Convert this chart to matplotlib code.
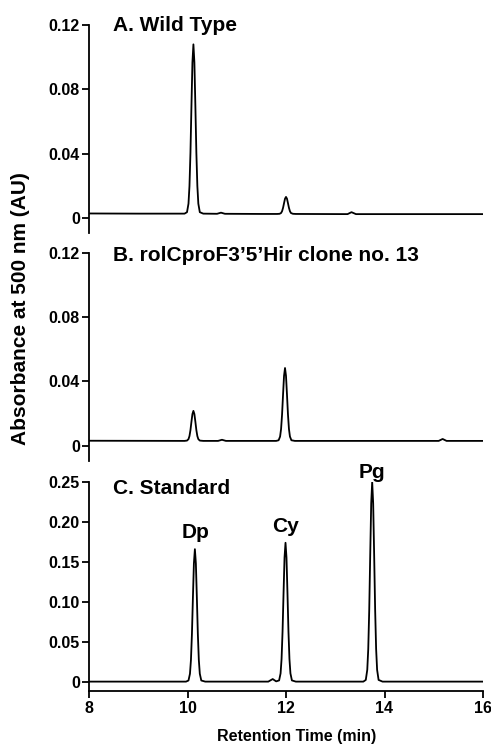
import matplotlib
matplotlib.use("Agg")
import matplotlib.pyplot as plt

plt.rcParams["font.family"] = ["Liberation Sans", "DejaVu Sans"]
plt.rcParams["font.weight"] = "bold"

# traced chromatograms (retention time in min, absorbance in AU)
a_time = [8.0, 9.0, 9.94, 9.99, 10.02, 10.04, 10.06, 10.08, 10.10, 10.12, 10.14, 10.16,
          10.18, 10.20, 10.22, 10.25, 10.32, 10.60, 10.68, 10.76, 11.50, 11.82, 11.87,
          11.90, 11.92, 11.94, 11.96, 11.98, 12.00, 12.02, 12.04, 12.06, 12.08, 12.10,
          12.14, 12.20, 13.25, 13.33, 13.42, 16.0]
a_abs = [0.0027, 0.0026, 0.0026, 0.0035, 0.0088, 0.0198, 0.0405, 0.0695, 0.0967, 0.108,
         0.0967, 0.0695, 0.0405, 0.0198, 0.0088, 0.0035, 0.0026, 0.0025, 0.0032, 0.0025,
         0.0024, 0.0024, 0.0025, 0.0030, 0.0041, 0.0062, 0.0091, 0.0119, 0.0130, 0.0119,
         0.0091, 0.0062, 0.0041, 0.0030, 0.0025, 0.0024, 0.0023, 0.0035, 0.0023, 0.0023]

b_time = [8.0, 9.94, 9.99, 10.02, 10.04, 10.06, 10.08, 10.10, 10.12, 10.14, 10.16, 10.18,
          10.20, 10.22, 10.25, 10.32, 10.62, 10.70, 10.78, 11.80, 11.85, 11.88, 11.90,
          11.92, 11.94, 11.96, 11.98, 12.00, 12.02, 12.04, 12.06, 12.08, 12.11, 12.18,
          15.10, 15.18, 15.26, 16.0]
b_abs = [0.0031, 0.0030, 0.0032, 0.0041, 0.0060, 0.0097, 0.0149, 0.0197, 0.0217, 0.0197,
         0.0149, 0.0097, 0.0060, 0.0041, 0.0032, 0.0030, 0.0030, 0.0037, 0.0030, 0.0030,
         0.0034, 0.0057, 0.0104, 0.0194, 0.0318, 0.0435, 0.0484, 0.0435, 0.0318, 0.0194,
         0.0104, 0.0057, 0.0034, 0.0030, 0.0030, 0.0042, 0.0030, 0.0030]

c_time = [8.0, 9.97, 10.02, 10.05, 10.07, 10.09, 10.11, 10.13, 10.15, 10.17, 10.19, 10.21,
          10.23, 10.25, 10.28, 10.36, 11.64, 11.73, 11.80, 11.86, 11.89, 11.91, 11.93,
          11.95, 11.97, 11.99, 12.01, 12.03, 12.05, 12.07, 12.09, 12.12, 12.20, 13.57,
          13.62, 13.65, 13.67, 13.69, 13.71, 13.73, 13.75, 13.77, 13.79, 13.81, 13.83,
          13.85, 13.88, 13.96, 16.0]
c_abs = [0.0005, 0.0005, 0.0019, 0.0103, 0.0275, 0.0601, 0.1056, 0.1483, 0.166, 0.1483,
         0.1056, 0.0601, 0.0275, 0.0103, 0.0019, 0.0005, 0.0005, 0.0037, 0.0008, 0.0020,
         0.0108, 0.0288, 0.0630, 0.1107, 0.1554, 0.174, 0.1554, 0.1107, 0.0630, 0.0288,
         0.0108, 0.0020, 0.0005, 0.0005, 0.0026, 0.0152, 0.0411, 0.0903, 0.1589, 0.2233,
         0.250, 0.2233, 0.1589, 0.0903, 0.0411, 0.0152, 0.0026, 0.0005, 0.0005]

panel_titles = ["A. Wild Type", "B. rolCproF3\u20195\u2019Hir clone no. 13", "C. Standard"]
ab_ticks = [0, 0.04, 0.08, 0.12]
ab_labels = ["0", "0.04", "0.08", "0.12"]
c_ticks = [0, 0.05, 0.10, 0.15, 0.20, 0.25]
c_labels = ["0", "0.05", "0.10", "0.15", "0.20", "0.25"]
x_ticks = [8, 10, 12, 14, 16]
peak_names = ["Dp", "Cy", "Pg"]
peak_x = [10.17, 12.0, 13.74]

fig = plt.figure(figsize=(4.91, 7.47), dpi=100)
left, width = 89 / 491, 394 / 491
ax_a = fig.add_axes([left, 0.688, width, 0.2784])
ax_b = fig.add_axes([left, 0.3829, width, 0.2784])
ax_c = fig.add_axes([left, 0.075, width, 0.2798])

series = [(ax_a, a_time, a_abs), (ax_b, b_time, b_abs), (ax_c, c_time, c_abs)]
for ax, t, y in series:
    ax.plot(t, y, color="black", linewidth=1.3, solid_joinstyle="round")
    ax.set_xlim(8, 16)
    for s in ["top", "right"]:
        ax.spines[s].set_visible(False)
    ax.spines["left"].set_linewidth(1.3)
    ax.spines["bottom"].set_linewidth(1.3)
    ax.tick_params(axis="y", direction="out", length=5, width=1.3, pad=1.5, labelsize=11.5)
    ax.tick_params(axis="x", direction="out", length=5, width=1.3, pad=2, labelsize=11.5)

for ax in (ax_a, ax_b):
    ax.set_ylim(-0.0095, 0.12)
    ax.spines["left"].set_bounds(-0.0095, 0.12)
    ax.spines["bottom"].set_visible(False)
    ax.set_xticks([])
    ax.set_yticks(ab_ticks)
    ax.set_yticklabels(ab_labels, fontweight="bold")

ax_c.set_ylim(-0.0112, 0.25)
ax_c.set_yticks(c_ticks)
ax_c.set_yticklabels(c_labels, fontweight="bold")
ax_c.set_xticks(x_ticks)
ax_c.set_xticklabels([str(v) for v in x_ticks], fontweight="bold")
ax_c.spines["left"].set_bounds(-0.0112, 0.25)

title_y = [1.0, 0.99, 0.97]
for ax, title, ty in zip((ax_a, ax_b, ax_c), panel_titles, title_y):
    ax.text(0.061, ty, title, transform=ax.transAxes, fontsize=15,
            fontweight="bold", ha="left", va="center")

# peak labels, placed in pixel terms above each peak
label_y = [1 - 533 / 747, 1 - 527 / 747, 1 - 473 / 747]
for name, px, ly in zip(peak_names, peak_x, label_y):
    xf = fig.transFigure.inverted().transform(ax_c.transData.transform((px, 0)))[0]
    fig.text(xf, ly, name, fontsize=15, fontweight="bold", ha="center", va="center")

fig.text(21 / 491, 1 - 309 / 747, "Absorbance at 500 nm (AU)", rotation=90,
         fontsize=15, fontweight="bold", ha="center", va="center")
fig.text(297 / 491, 1 - 737 / 747, "Retention Time (min)", fontsize=11.5,
         fontweight="bold", ha="center", va="center")

fig.savefig("out.png", dpi=100)
